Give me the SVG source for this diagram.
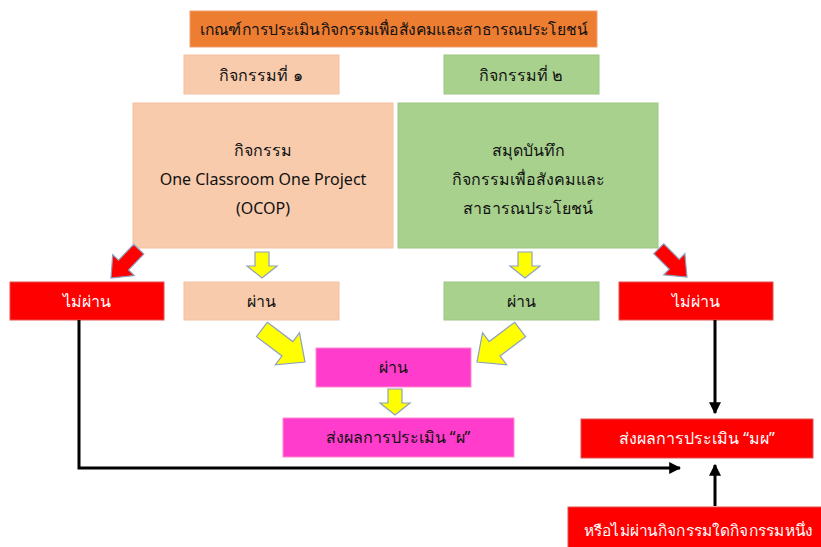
<svg xmlns="http://www.w3.org/2000/svg" width="821" height="547" viewBox="0 0 821 547">
<style>
text{font-family:"Noto Sans","DejaVu Sans",sans-serif;font-size:16px;text-anchor:middle;dominant-baseline:central;fill:#111}
.w{fill:#fff}
.peach{fill:#F8CBAD;stroke:#F4C0A0;stroke-width:1}
.green{fill:#A9D18E;stroke:#9CC682;stroke-width:1}
.red{fill:#FF0000;stroke:#E05050;stroke-width:1}
.pink{fill:#FF3CCB;stroke:#FF8ACF;stroke-width:1}
.ya{fill:#FFFF00;stroke:#8EA0C0;stroke-width:1.2}
.ra{fill:#FF0000;stroke:#8EA0C0;stroke-width:1.2}
.conn{fill:none;stroke:#000;stroke-width:3}
</style>
<defs>
<path id="bigArrow" d="M-40,-7 L-18,-7 L-18,-15 L0,0 L-18,15 L-18,7 L-40,7 Z"/>
<path id="yArrow" d="M-54,-9 L-22,-9 L-22,-20 L0,0 L-22,20 L-22,9 L-54,9 Z"/>
<path id="dArrow" d="M-26,-7 L-12,-7 L-12,-15 L0,0 L-12,15 L-12,7 L-26,7 Z"/>
<marker id="ah" viewBox="0 0 10 10" refX="9" refY="5" markerWidth="4" markerHeight="4" orient="auto" markerUnits="strokeWidth">
<path d="M0,0 L10,5 L0,10 Z" fill="#000"/>
</marker>
</defs>

<g id="title">
<rect x="190" y="11" width="407" height="36" fill="#ED7D31" stroke="#F0A070"/>
<text x="394" y="29" style="font-size:15.5px" textLength="388" lengthAdjust="spacingAndGlyphs">เกณฑ์การประเมินกิจกรรมเพื่อสังคมและสาธารณประโยชน์</text>
</g>

<g id="act1-label">
<rect class="peach" x="184" y="55" width="155" height="39"/>
<text x="261" y="75">กิจกรรมที่ ๑</text>
</g>
<g id="act2-label">
<rect class="green" x="444" y="55" width="155" height="39"/>
<text x="521" y="75">กิจกรรมที่ ๒</text>
</g>

<g id="act1">
<rect class="peach" x="133" y="103" width="260" height="145"/>
<text x="263" y="150">กิจกรรม</text>
<text x="263" y="179">One Classroom One Project</text>
<text x="263" y="208">(OCOP)</text>
</g>
<g id="act2">
<rect class="green" x="398" y="103" width="260" height="145"/>
<text x="528" y="150">สมุดบันทึก</text>
<text x="528" y="179">กิจกรรมเพื่อสังคมและ</text>
<text x="528" y="208">สาธารณประโยชน์</text>
</g>

<g id="fail1">
<rect class="red" x="10" y="282" width="154" height="38"/>
<text class="w" x="87" y="301">ไม่ผ่าน</text>
</g>
<g id="pass1">
<rect class="peach" x="184" y="282" width="155" height="38"/>
<text x="261" y="301">ผ่าน</text>
</g>
<g id="pass2">
<rect class="green" x="444" y="282" width="155" height="38"/>
<text x="521" y="301">ผ่าน</text>
</g>
<g id="fail2">
<rect class="red" x="619" y="282" width="154" height="38"/>
<text class="w" x="696" y="301">ไม่ผ่าน</text>
</g>

<g id="pass-both">
<rect class="pink" x="316" y="348" width="155" height="39"/>
<text x="393" y="367">ผ่าน</text>
</g>
<g id="result-pass">
<rect class="pink" x="283" y="418" width="231" height="39"/>
<text x="398" y="437">ส่งผลการประเมิน “ผ”</text>
</g>
<g id="result-fail">
<rect class="red" x="581" y="419" width="232" height="39"/>
<text class="w" x="697" y="438">ส่งผลการประเมิน “มผ”</text>
</g>
<g id="fail-any">
<rect class="red" x="568" y="507" width="260" height="45"/>
<text class="w" x="698" y="530" style="font-size:15px" textLength="229" lengthAdjust="spacingAndGlyphs">หรือไม่ผ่านกิจกรรมใดกิจกรรมหนึ่ง</text>
</g>

<g id="connectors">
<use href="#bigArrow" class="ra" transform="translate(111,278) rotate(134)"/>
<use href="#bigArrow" class="ra" transform="translate(687,277) rotate(45)"/>
<use href="#dArrow" class="ya" transform="translate(262,278) rotate(90)"/>
<use href="#dArrow" class="ya" transform="translate(525,278) rotate(90)"/>
<use href="#yArrow" class="ya" transform="translate(305,362) rotate(37)"/>
<use href="#yArrow" class="ya" transform="translate(477,362) rotate(143)"/>
<use href="#dArrow" class="ya" transform="translate(395,415) rotate(90)"/>
<path class="conn" d="M79,320 V468 H680" marker-end="url(#ah)"/>
<path class="conn" d="M715,320 V413" marker-end="url(#ah)"/>
<path class="conn" d="M715,506 V465" marker-end="url(#ah)"/>
</g>
</svg>
